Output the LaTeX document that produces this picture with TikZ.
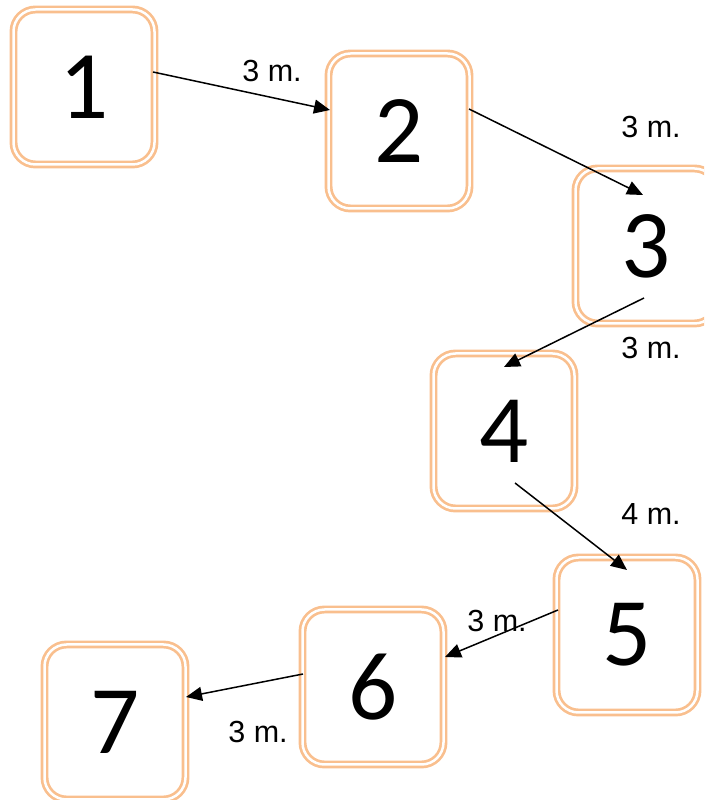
\documentclass[tikz,border=0pt]{standalone}
\usepackage{fontspec}
\newfontfamily\numfont{Carlito}
\newfontfamily\labelfont{Liberation Sans}
\usetikzlibrary{
    arrows.meta,
    calc
}
\definecolor{boxorange}{RGB}{249,191,142}
\tikzset{
    % Box styles
    stop box/.style={
        draw=boxorange,
        double=white,
        double distance=2.5pt,
        line width=2.7pt,
        rectangle,
        rounded corners=22pt,
        minimum width=141pt,
        minimum height=155pt,
        inner sep=0pt,
        font=\numfont\fontsize{97}{97}\selectfont
    },
    % Arrow styles
    walk arrow/.style={
        -{Triangle[length=16pt,width=14pt]},
        line width=1.5pt,
        black
    },
    % Label styles
    dist label/.style={
        inner sep=0pt,
        font=\labelfont\fontsize{30.5}{30.5}\selectfont
    }
}

\begin{document}
\begin{tikzpicture}[x=1pt,y=1pt]
        \useasboundingbox (0,0) rectangle (704,800);
        \clip (0,0) rectangle (704,800);

        % Define nodes
        \foreach \i/\x/\y in {1/84/713,2/399/669,3/646/554,4/504/369,5/627/165,6/373/113,7/115/78} {
            \node[stop box] (n\i) at (\x,\y) {\i};
        }

        % Draw edges
        \draw[walk arrow] ($(n1)+(69,15)$) -- ($(n2)+(-69,21)$);
        \draw[walk arrow] ($(n2)+(70,22)$) -- ($(n3)+(-3,51)$);
        \draw[walk arrow] ($(n3)+(-2,-52)$) -- ($(n4)+(0,64)$);
        \draw[walk arrow] ($(n4)+(11,-52)$) -- ($(n5)+(0,65)$);
        \draw[walk arrow] ($(n5)+(-69,25)$) -- ($(n6)+(72,30)$);
        \draw[walk arrow] ($(n6)+(-70,13)$) -- ($(n7)+(71,25)$);

        % Distances
        \node[dist label] (d12) at (272,729) {3 m.};
        \node[dist label] (d23) at (651,673) {3 m.};
        \node[dist label] (d34) at (651,452) {3 m.};
        \node[dist label] (d45) at (651,286) {4 m.};
        \node[dist label] (d56) at (497,179) {3 m.};
        \node[dist label] (d67) at (258,68) {3 m.};
    \end{tikzpicture}
\end{document}
